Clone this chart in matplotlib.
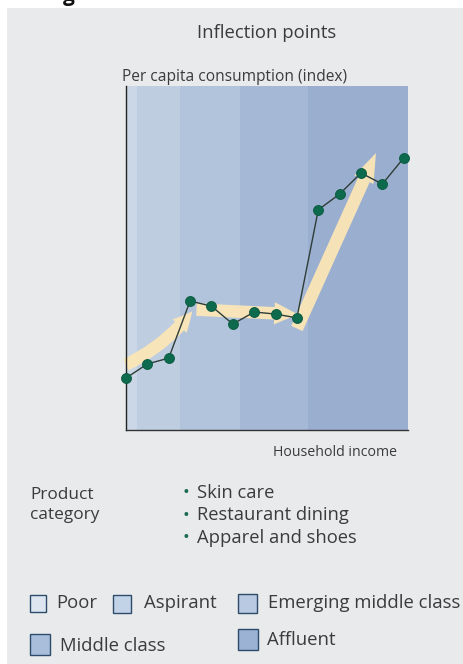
import matplotlib
matplotlib.use("Agg")
import matplotlib.pyplot as plt
from matplotlib.patches import Rectangle

plt.rcParams['font.family'] = ['Open Sans', 'DejaVu Sans']

# Consumption index along the household-income axis
income_steps = list(range(14))
consumption = [15.1, 19.2, 20.9, 37.5, 36.0, 30.8, 34.3, 33.7, 32.6,
               64.0, 68.6, 74.7, 71.5, 79.1]

# Income segments (lower/upper bound on the income axis)
segments = ["Poor", "Aspirant", "Emerging middle class", "Middle class", "Affluent"]
segment_bounds = [0.0, 0.5, 2.53, 5.33, 8.5, 13.2]
segment_colors = ["#cbd7e6", "#bfcde1", "#b2c3dc", "#a5b9d6", "#9aafd0"]
legend_colors = ["#dce5f0", "#c3d3e7", "#b8c9e1", "#a9bedb", "#9cb2d4"]

categories = ["Skin care", "Restaurant dining", "Apparel and shoes"]

# Trend arrows: (start x, start y, end x, end y)
trend_arrows = [(0.0, 19.0, 3.1, 34.5),
                (3.3, 35.0, 8.05, 33.6),
                (8.0, 29.5, 11.7, 80.5)]

W, H = 464, 664
fig = plt.figure(figsize=(W / 100, H / 100), dpi=100)

# Full-figure canvas in pixel units for the panel, labels and legend
bg = fig.add_axes([0, 0, 1, 1], zorder=0)
bg.set_xlim(0, W)
bg.set_ylim(H, 0)
bg.axis("off")
bg.add_patch(Rectangle((7.5, 8), W, H, facecolor="#e8eaec", edgecolor="none"))
bg.text(69, 1, "g", fontsize=15, fontweight="bold", color="#111111",
        ha="center", va="baseline")

txt = "#3b3b3b"
bg.text(267, 33, "Inflection points", fontsize=13.3, color=txt, ha="center", va="center")
bg.text(122, 77, "Per capita consumption (index)", fontsize=11.2, color=txt,
        ha="left", va="center")
bg.text(397, 452, "Household income", fontsize=10.2, color=txt, ha="right", va="center")
bg.text(30, 505, "Product\ncategory", fontsize=12.4, color=txt, ha="left", va="center",
        linespacing=1.35)
for i, cat in enumerate(categories):
    y = 493 + i * 22.5
    bg.text(183, y, "•", fontsize=13, color="#1b6b52", ha="left", va="center")
    bg.text(197, y, cat, fontsize=13.2, color=txt, ha="left", va="center")

# Segment legend
legend_layout = [(30, 595, 16, 17, 56, 603),
                 (113, 595, 18, 18, 144, 603),
                 (238, 594, 19, 19, 268, 603),
                 (30, 634, 20, 21, 60, 646),
                 (238, 629, 20, 21, 267, 640)]
for name, col, (bx, by, bw, bh, tx, ty) in zip(segments, legend_colors, legend_layout):
    bg.add_patch(Rectangle((bx, by), bw, bh, facecolor=col, edgecolor="#2d4b6b", lw=1.0))
    bg.text(tx, ty, name, fontsize=13.3, color=txt, ha="left", va="center")

# Main chart
ax = fig.add_axes([126 / W, 1 - 430 / H, 282 / W, 344 / H], zorder=1)
ax.set_facecolor("none")
ax.set_xlim(segment_bounds[0], segment_bounds[-1])
ax.set_ylim(0, 100)

for lo, hi, col in zip(segment_bounds[:-1], segment_bounds[1:], segment_colors):
    ax.axvspan(lo, hi, color=col, lw=0, zorder=0)

arrow_shapes = [dict(hw=1.4, hl=1.4, tw=0.9, rad=0.12),
                dict(hw=1.6, hl=1.7, tw=0.9, rad=0.0),
                dict(hw=1.5, hl=2.1, tw=0.9, rad=0.0)]
for (x0, y0, x1, y1), s in zip(trend_arrows, arrow_shapes):
    ax.annotate("", xy=(x1, y1), xytext=(x0, y0),
                arrowprops=dict(arrowstyle=f"simple,head_width={s['hw']},head_length={s['hl']},tail_width={s['tw']}",
                                mutation_scale=10, fc="#fbe6b6", ec="none", alpha=0.95,
                                shrinkA=0, shrinkB=0,
                                connectionstyle=f"arc3,rad={s['rad']}"),
                zorder=2)

ax.plot(income_steps, consumption, color="#2e3d37", lw=1.0, zorder=3, clip_on=False)
ax.plot(income_steps, consumption, "o", ms=7.2, color="#0d6a4c", mec="#0a5a40",
        mew=0.6, zorder=4, clip_on=False)

for side in ["top", "right"]:
    ax.spines[side].set_visible(False)
ax.spines["left"].set_color("#222222")
ax.spines["bottom"].set_color("#333333")
ax.spines["left"].set_linewidth(1.0)
ax.spines["bottom"].set_linewidth(1.0)
ax.set_xticks([])
ax.set_yticks([])

fig.savefig("out.png", dpi=100)
